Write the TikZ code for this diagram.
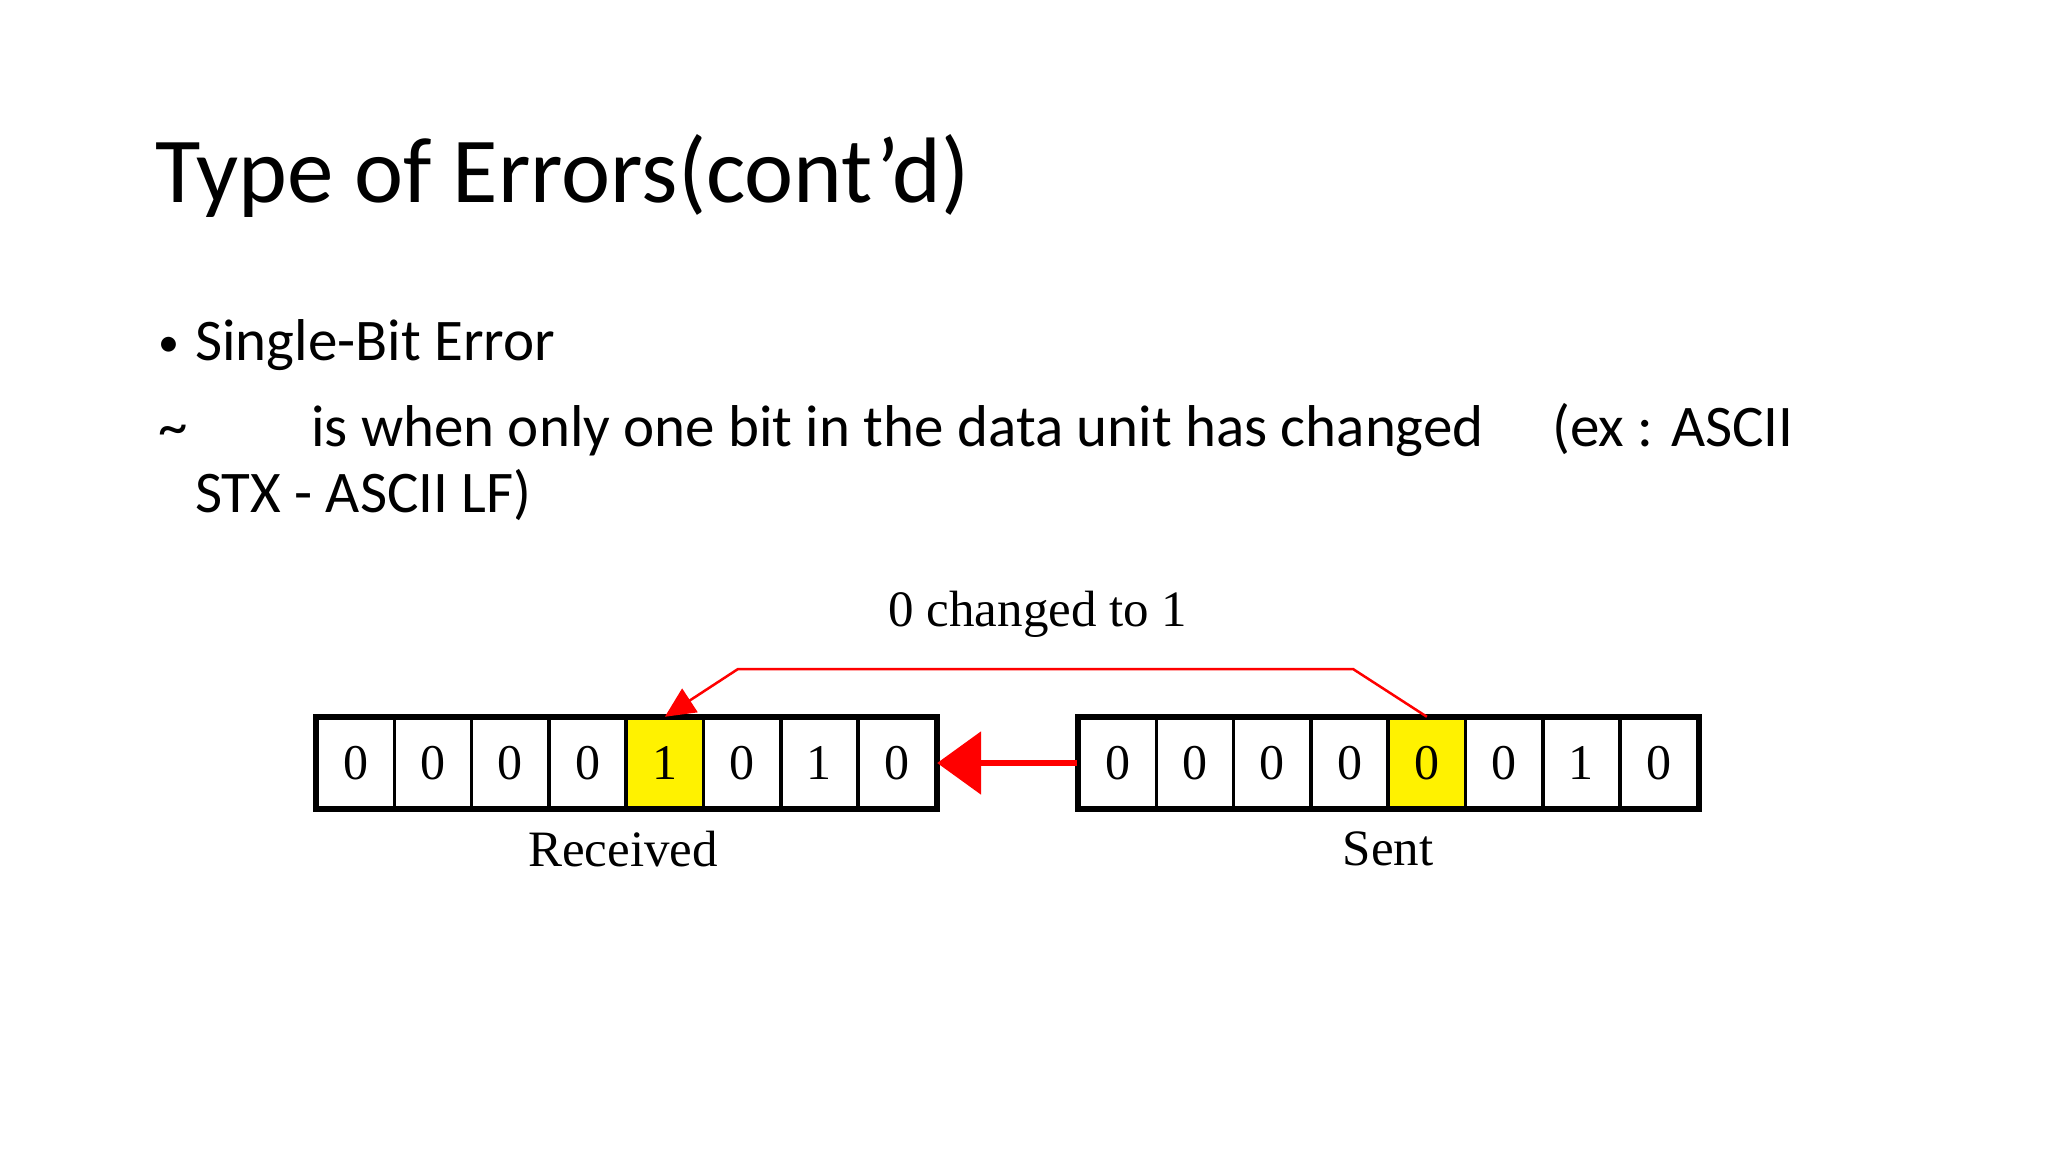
\documentclass[tikz,border=0pt]{standalone}
\usepackage{fontspec}
\usetikzlibrary{arrows.meta}
\setmainfont{Carlito}
\newfontfamily\tms{Liberation Serif}
\begin{document}
\begin{tikzpicture}[x=1pt,y=-1pt,
  cellbox/.style={draw=black,line width=3.5pt,minimum width=77.3pt,minimum height=89pt,inner sep=0pt,font=\tms\fontsize{50}{52}\selectfont},
  body/.style={anchor=base west,inner sep=0pt,font=\fontsize{59}{62}\selectfont},
  lbl/.style={font=\tms\fontsize{51}{54}\selectfont,inner sep=0pt}]
\useasboundingbox (0,0) rectangle (2048,1152);
\node[anchor=base west,inner sep=0pt,font=\fontsize{93}{98}\selectfont] (title) at (155,202) {Type of Errors(cont’d)};
\node[body,font=\fontsize{42}{44}\selectfont] (bul) at (158,356) {•};
\node[body] (l1) at (195,360) {Single-Bit Error};
\node[body] (tl) at (158,446) {\textasciitilde};
\node[body] (l2) at (311,446) {is when only one bit in the data unit has changed};
\node[body] (l3) at (1552,446) {(ex : ASCII};
\node[body] (l4) at (195,512) {STX - ASCII LF)};
\foreach \v [count=\i from 0] in {0,0,0,0,1,0,1,0}{
  \node[cellbox,fill=white] (r\i) at (317+38.65+\i*77.3,763) {\v};
  \node[cellbox,fill=white] (s\i) at (1079+38.65+\i*77.3,763) {\ifnum\i=6 1\else 0\fi};
}
\node[cellbox,fill=yellow] (r4) at (317+38.65+4*77.3,763) {1};
\node[cellbox,fill=yellow] (s4) at (1079+38.65+4*77.3,763) {0};
\draw[line width=5pt] (r0.north west) rectangle (r7.south east);
\draw[line width=5pt] (s0.north west) rectangle (s7.south east);
\draw[red,line width=6pt,-{Triangle[length=44pt,width=62pt]}] (s0.west) -- (r7.east);
\coordinate (c1) at (1353,669);
\coordinate (c2) at (738,669);
\draw[red,line width=2.5pt,-{Triangle[length=30pt,width=28pt]}] (s4.north) -- (c1) -- (c2) -- (r4.north);
\node[lbl] (chg) at (1038,614) {0 changed to 1};
\node[lbl] (rec) at (623,849) {Received};
\node[lbl] (snt) at (1388,849) {Sent};
\end{tikzpicture}
\end{document}
